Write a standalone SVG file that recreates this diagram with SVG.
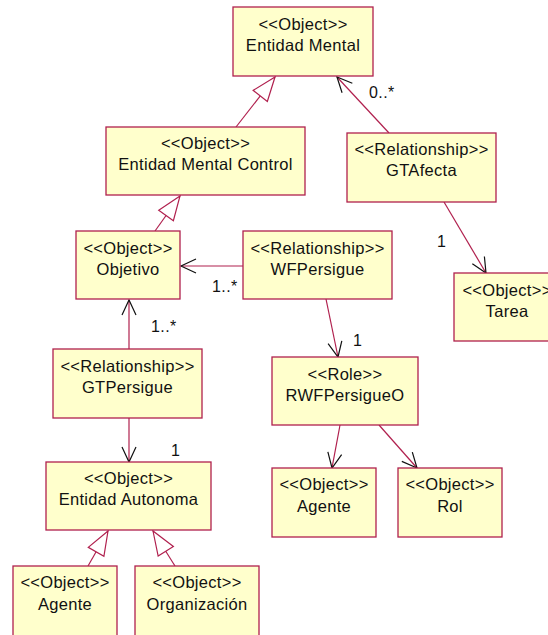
<svg xmlns="http://www.w3.org/2000/svg" width="548" height="635" viewBox="0 0 548 635">
  <style>
    .box { fill: #FFFFCC; stroke: #B0204E; stroke-width: 1.3; }
    .txt { font-family: "Liberation Sans", Arial, sans-serif; font-size: 16.5px; letter-spacing: 0.3px; fill: #111; text-anchor: middle; }
    .lbl { font-family: "Liberation Sans", Arial, sans-serif; font-size: 16px; letter-spacing: 0.4px; fill: #111; }
    .link { stroke: #B0204E; stroke-width: 1.2; fill: none; }
    .nav { marker-end: url(#open); }
    .gen { marker-end: url(#tri); }
  </style>
  <defs>
    <marker id="open" viewBox="-16 -8 17 16" refX="0" refY="0" markerWidth="17" markerHeight="16" markerUnits="userSpaceOnUse" orient="auto" overflow="visible">
      <path d="M -15 -7 L 0 0 L -15 7" fill="none" stroke="#111" stroke-width="1.2"/>
    </marker>
    <marker id="tri" viewBox="-26 -10 27 20" refX="0" refY="0" markerWidth="27" markerHeight="20" markerUnits="userSpaceOnUse" orient="auto" overflow="visible">
      <path d="M 0 0 L -24 -9 L -24 9 Z" fill="#FFFFFF" stroke="#B0204E" stroke-width="1.2"/>
    </marker>
  </defs>

  <!-- connectors -->
  <g id="connectors">
    <line class="link gen" x1="236" y1="127" x2="275" y2="77"/>
    <line class="link gen" x1="155" y1="231" x2="180" y2="196"/>
    <line class="link nav" x1="389" y1="133" x2="337" y2="77"/>
    <line class="link nav" x1="444" y1="202" x2="486" y2="273"/>
    <line class="link nav" x1="243" y1="266" x2="181" y2="266"/>
    <line class="link nav" x1="326" y1="299" x2="338" y2="357"/>
    <line class="link nav" x1="129" y1="349" x2="129" y2="300"/>
    <line class="link nav" x1="129" y1="418" x2="129" y2="462"/>
    <line class="link nav" x1="340" y1="425" x2="332" y2="468"/>
    <line class="link nav" x1="379" y1="425" x2="417" y2="468"/>
    <line class="link gen" x1="88" y1="566" x2="108" y2="531"/>
    <line class="link gen" x1="175" y1="566" x2="153" y2="531"/>
    <text class="lbl" x="369" y="98">0..*</text>
    <text class="lbl" x="437" y="247">1</text>
    <text class="lbl" x="212" y="292">1..*</text>
    <text class="lbl" x="151" y="332">1..*</text>
    <text class="lbl" x="171" y="456">1</text>
    <text class="lbl" x="353" y="346">1</text>
  </g>

  <g id="entidad-mental">
    <rect class="box" x="233" y="7" width="140" height="69"/>
    <text class="txt" x="303" y="30">&lt;&lt;Object&gt;&gt;</text>
    <text class="txt" x="303" y="51">Entidad Mental</text>
  </g>
  <g id="entidad-mental-control">
    <rect class="box" x="106" y="127" width="199" height="68"/>
    <text class="txt" x="205.5" y="149">&lt;&lt;Object&gt;&gt;</text>
    <text class="txt" x="205.5" y="170">Entidad Mental Control</text>
  </g>
  <g id="gtafecta">
    <rect class="box" x="347" y="133" width="149" height="69"/>
    <text class="txt" x="421.5" y="155">&lt;&lt;Relationship&gt;&gt;</text>
    <text class="txt" x="421.5" y="176">GTAfecta</text>
  </g>
  <g id="objetivo">
    <rect class="box" x="76" y="231" width="104" height="68"/>
    <text class="txt" x="128" y="254">&lt;&lt;Object&gt;&gt;</text>
    <text class="txt" x="128" y="275">Objetivo</text>
  </g>
  <g id="wfpersigue">
    <rect class="box" x="243" y="231" width="149" height="68"/>
    <text class="txt" x="317.5" y="254">&lt;&lt;Relationship&gt;&gt;</text>
    <text class="txt" x="317.5" y="275">WFPersigue</text>
  </g>
  <g id="tarea">
    <rect class="box" x="454" y="273" width="106" height="68"/>
    <text class="txt" x="507" y="296">&lt;&lt;Object&gt;&gt;</text>
    <text class="txt" x="507" y="317">Tarea</text>
  </g>
  <g id="gtpersigue">
    <rect class="box" x="53" y="349" width="149" height="69"/>
    <text class="txt" x="127.5" y="372">&lt;&lt;Relationship&gt;&gt;</text>
    <text class="txt" x="127.5" y="393">GTPersigue</text>
  </g>
  <g id="rwfpersigueo">
    <rect class="box" x="272" y="357" width="146" height="68"/>
    <text class="txt" x="345" y="380">&lt;&lt;Role&gt;&gt;</text>
    <text class="txt" x="345" y="401">RWFPersigueO</text>
  </g>
  <g id="entidad-autonoma">
    <rect class="box" x="46" y="462" width="165" height="68"/>
    <text class="txt" x="128.5" y="484">&lt;&lt;Object&gt;&gt;</text>
    <text class="txt" x="128.5" y="505">Entidad Autonoma</text>
  </g>
  <g id="agente-rol">
    <rect class="box" x="272" y="468" width="104" height="69"/>
    <text class="txt" x="324" y="490">&lt;&lt;Object&gt;&gt;</text>
    <text class="txt" x="324" y="512">Agente</text>
  </g>
  <g id="rol">
    <rect class="box" x="398" y="468" width="104" height="69"/>
    <text class="txt" x="450" y="490">&lt;&lt;Object&gt;&gt;</text>
    <text class="txt" x="450" y="512">Rol</text>
  </g>
  <g id="agente">
    <rect class="box" x="13" y="566" width="104" height="72"/>
    <text class="txt" x="65" y="588">&lt;&lt;Object&gt;&gt;</text>
    <text class="txt" x="65" y="610">Agente</text>
  </g>
  <g id="organizacion">
    <rect class="box" x="135" y="566" width="124" height="72"/>
    <text class="txt" x="197" y="588">&lt;&lt;Object&gt;&gt;</text>
    <text class="txt" x="197" y="610">Organización</text>
  </g>
</svg>
